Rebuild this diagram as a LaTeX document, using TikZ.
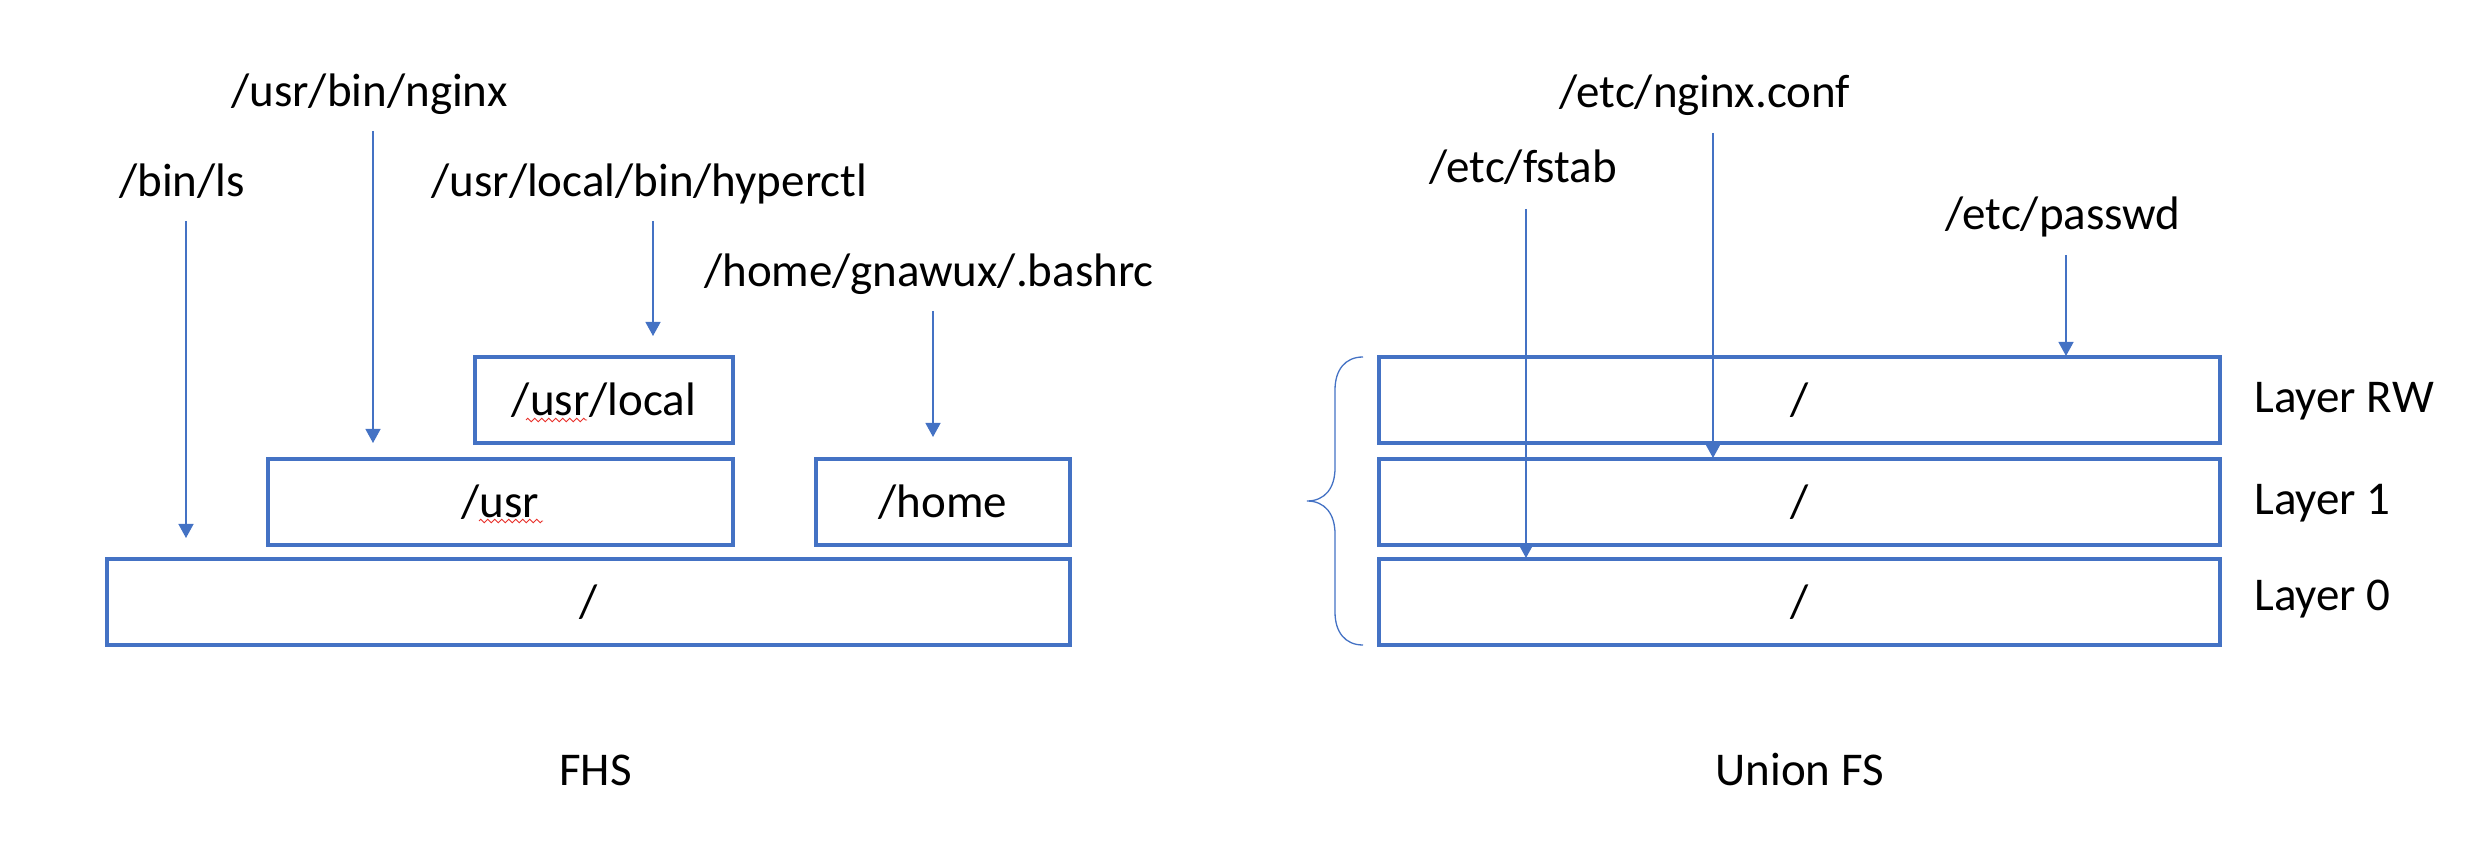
\documentclass[tikz,border=0pt]{standalone}
\usepackage{fontspec}
\setmainfont{Carlito}
\usetikzlibrary{arrows.meta,decorations.pathmorphing}
\definecolor{msblue}{HTML}{4472C4}
\definecolor{spellred}{HTML}{E8302A}
\begin{document}
\begin{tikzpicture}[x=0.5pt,y=-0.5pt,
  lbl/.style={font=\fontsize{23.5}{28}\selectfont, inner sep=0pt, anchor=base west},
  boxtxt/.style={font=\fontsize{23.5}{28}\selectfont},
  fsbox/.style={draw=msblue, line width=1.6pt, minimum height=43pt, inner sep=0pt},
  ptr/.style={draw=msblue, line width=0.65pt, -{Triangle[width=7.5pt,length=7pt]}},
  squig/.style={draw=spellred, line width=0.45pt, decorate, decoration={zigzag, segment length=3.5pt, amplitude=0.9pt}},
  brace/.style={draw=msblue, line width=0.65pt}
]
\useasboundingbox (0,0) rectangle (2470,860);

% ---------- FHS boxes ----------
\node[fsbox, minimum width=481.5pt] (root) at (588.5,602) {};
\node[boxtxt] (roottxt) at (root.center) {/};
\node[fsbox, minimum width=232.5pt] (usr) at (500.5,502) {};
\node[boxtxt] (usrtxt) at (usr.center) {/usr};
\node[fsbox, minimum width=127pt] (home) at (943,502) {};
\node[boxtxt] (hometxt) at (home.center) {/home};
\node[fsbox, minimum width=129pt] (usrlocal) at (604,400) {};
\node[boxtxt] (usrlocaltxt) at (usrlocal.center) {/usr/local};

% spell-check underlines
\coordinate (sqa1) at (479,521); \coordinate (sqa2) at (543,521);
\draw[squig] (sqa1) -- (sqa2);
\coordinate (sqb1) at (526,420); \coordinate (sqb2) at (587,420);
\draw[squig] (sqb1) -- (sqb2);

% ---------- FHS labels ----------
\node[lbl] (binls) at (119,197) {/bin/ls};
\node[lbl] (nginx) at (231,107) {/usr/bin/nginx};
\node[lbl] (hyper) at (431,197) {/usr/local/bin/hyperctl};
\node[lbl] (bashrc) at (704,287) {/home/gnawux/.bashrc};
\node[lbl] (fhs) at (559,785) {FHS};

% FHS pointers
\coordinate (s1) at (186,221); \coordinate (e1) at (186,538);
\coordinate (s2) at (373,131); \coordinate (e2) at (373,443);
\coordinate (s3) at (653,221); \coordinate (e3) at (653,336);
\coordinate (s4) at (933,311); \coordinate (e4) at (933,437);
\draw[ptr] (s1) -- (e1);
\draw[ptr] (s2) -- (e2);
\draw[ptr] (s3) -- (e3);
\draw[ptr] (s4) -- (e4);

% ---------- Union FS boxes ----------
\node[fsbox, minimum width=420.5pt] (lrw) at (1799.5,400) {};
\node[boxtxt] (lrwtxt) at (lrw.center) {/};
\node[fsbox, minimum width=420.5pt] (l1) at (1799.5,502) {};
\node[boxtxt] (l1txt) at (l1.center) {/};
\node[fsbox, minimum width=420.5pt] (l0) at (1799.5,602) {};
\node[boxtxt] (l0txt) at (l0.center) {/};

\node[lbl] (lrwlbl) at (2254,413) {Layer RW};
\node[lbl] (l1lbl) at (2254,515) {Layer 1};
\node[lbl] (l0lbl) at (2254,611) {Layer 0};

% brace
\coordinate (bt) at (1363,357);
\coordinate (bm) at (1307,501);
\coordinate (bb) at (1363,645);
\draw[brace] (bt) .. controls (1345,357) and (1335,370) .. (1335,390)
  -- (1335,468) .. controls (1335,488) and (1325,501) .. (bm)
  .. controls (1325,501) and (1335,514) .. (1335,534)
  -- (1335,612) .. controls (1335,632) and (1345,645) .. (bb);

% ---------- Union FS labels ----------
\node[lbl] (fstab) at (1429,183) {/etc/fstab};
\node[lbl] (nginxconf) at (1559,108) {/etc/nginx.conf};
\node[lbl] (passwd) at (1945,230) {/etc/passwd};
\node[lbl] (unionfs) at (1715,785) {Union FS};

\coordinate (s5) at (1526,209); \coordinate (e5) at (1526,558);
\coordinate (s6) at (1713,133); \coordinate (e6) at (1713,458);
\coordinate (s7) at (2066,255); \coordinate (e7) at (2066,356);
\draw[ptr] (s5) -- (e5);
\draw[ptr] (s6) -- (e6);
\draw[ptr] (s7) -- (e7);
\end{tikzpicture}
\end{document}
